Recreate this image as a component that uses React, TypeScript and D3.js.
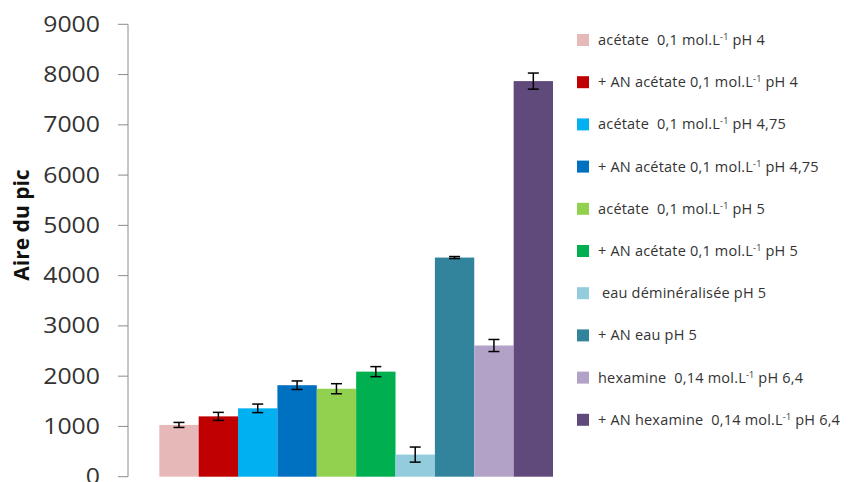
import React from "react";
import * as d3 from "d3";

const seriesLabels: { pre: string; post: string }[] = [
  { pre: "acétate  0,1 mol.L", post: " pH 4" },
  { pre: "+ AN acétate 0,1 mol.L", post: " pH 4" },
  { pre: "acétate  0,1 mol.L", post: " pH 4,75" },
  { pre: "+ AN acétate 0,1 mol.L", post: " pH 4,75" },
  { pre: "acétate  0,1 mol.L", post: " pH 5" },
  { pre: "+ AN acétate 0,1 mol.L", post: " pH 5" },
  { pre: " eau déminéralisée pH 5", post: "" },
  { pre: "+ AN eau pH 5", post: "" },
  { pre: "hexamine  0,14 mol.L", post: " pH 6,4" },
  { pre: "+ AN hexamine  0,14 mol.L", post: " pH 6,4" },
];
const hasSup = [true, true, true, true, true, true, false, false, true, true];
const values = [1030, 1200, 1360, 1820, 1750, 2090, 440, 4360, 2610, 7870];
const errors = [50, 80, 85, 85, 100, 100, 150, 20, 120, 160];
const colors = [
  "#E6B9B8", "#C00000", "#00B0F0", "#0070C0", "#92D050",
  "#00B050", "#93CDDD", "#31849B", "#B3A2C7", "#604A7B",
];
const yTicks = [0, 1000, 2000, 3000, 4000, 5000, 6000, 7000, 8000, 9000];

export default function App() {
  const W = 848, H = 482;
  const y = d3.scaleLinear().domain([0, 9000]).range([476.7, 24.3]);
  const x = d3.scaleBand<number>().domain(d3.range(values.length)).range([159.3, 553]).padding(0);
  const axisX = 128;
  const font = "'Open Sans', 'Liberation Sans', sans-serif";
  return (
    <svg width={W} height={H} style={{ position: "absolute", left: 0, top: 0, background: "#fff" }}>
      <rect width={W} height={H} fill="#fff" />
      {/* y axis */}
      <line x1={axisX} x2={axisX} y1={y(9000)} y2={y(0)} stroke="#8c8c8c" strokeWidth={1} />
      {yTicks.map((t) => {
        const s = String(t);
        return (
          <g key={t}>
            <line x1={axisX - 10} x2={axisX} y1={y(t)} y2={y(t)} stroke="#8c8c8c" strokeWidth={1} />
            <text
              x={100}
              y={y(t)}
              dy="0.36em"
              textAnchor="end"
              fontFamily={font}
              fontSize={21}
              fill="#333"
              textLength={s.length * 14.2}
              lengthAdjust="spacingAndGlyphs"
            >
              {s}
            </text>
          </g>
        );
      })}
      <text transform={`translate(29,225) rotate(-90)`} textAnchor="middle" fontFamily={font} fontWeight="bold" fontSize={21} fill="#111">
        Aire du pic
      </text>
      {/* bars */}
      {values.map((v, i) => (
        <rect key={i} x={x(i)} y={y(v)} width={x.bandwidth()} height={y(0) - y(v)} fill={colors[i]} />
      ))}
      {/* error bars */}
      {values.map((v, i) => {
        const cx = (x(i) as number) + x.bandwidth() / 2;
        const y1 = y(v + errors[i]);
        const y2 = y(v - errors[i]);
        return (
          <g key={i} stroke="#000" strokeWidth={1.5}>
            <line x1={cx} x2={cx} y1={y1} y2={y2} />
            <line x1={cx - 5.5} x2={cx + 5.5} y1={y1} y2={y1} />
            <line x1={cx - 5.5} x2={cx + 5.5} y1={y2} y2={y2} />
          </g>
        );
      })}
      {/* legend */}
      {seriesLabels.map((s, i) => {
        const cy = 40 + i * 42.2;
        return (
          <g key={i}>
            <rect x={577} y={cy - 6} width={12} height={12} fill={colors[i]} />
            <text
              x={598}
              y={cy}
              dy="0.35em"
              fontFamily={font}
              fontSize={14.5}
              fill="#333"
              letterSpacing={0.2}
              xmlSpace="preserve"
              style={{ whiteSpace: "pre" }}
            >
              {s.pre}
              {hasSup[i] && (
                <tspan fontSize={9} dy={-5}>-1</tspan>
              )}
              {s.post && <tspan dy={hasSup[i] ? 5 : 0}>{s.post}</tspan>}
            </text>
          </g>
        );
      })}
    </svg>
  );
}
